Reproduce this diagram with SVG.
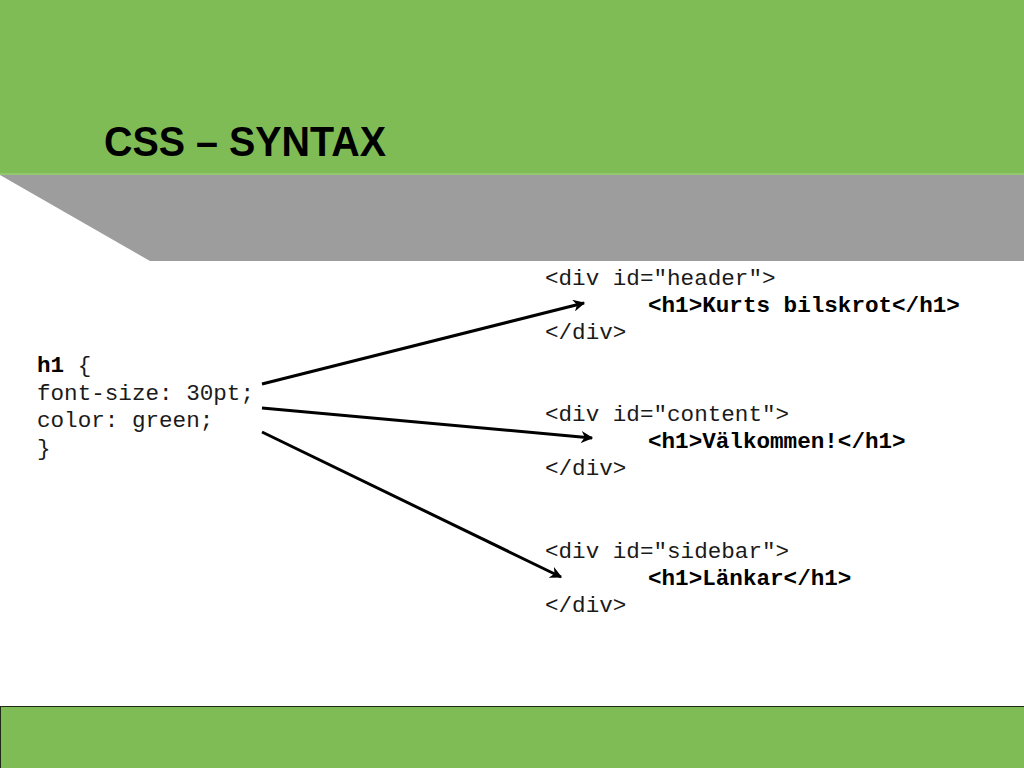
<svg xmlns="http://www.w3.org/2000/svg" width="1024" height="768" viewBox="0 0 1024 768">
<style>
.code{font-family:"Liberation Mono","Courier New",monospace;font-size:22.6px;fill:#1a1a1a}
.b{font-weight:bold;fill:#000}
.title{font-family:"Liberation Sans",Arial,sans-serif;font-weight:bold;font-size:43px;fill:#000}
.conn{stroke:#000;stroke-width:3;fill:none}
</style>
<defs>
<marker id="arr" viewBox="0 0 10 10" refX="9" refY="5" markerWidth="4" markerHeight="4" orient="auto" markerUnits="strokeWidth">
<path d="M0,0 L10,5 L0,10 L3,5 Z" fill="#000"/>
</marker>
</defs>
<g id="background">
<rect x="0" y="0" width="1024" height="173" fill="#7FBC55"/>
<rect x="0" y="173" width="1024" height="2" fill="#92C66F"/>
<polygon points="0,175 1024,175 1024,261 150,261" fill="#9D9D9D"/>
<rect x="0.5" y="706.5" width="1024" height="62" fill="#7FBC55" stroke="#1E2A16" stroke-width="1"/>
</g>
<g id="title">
<text class="title" x="104" y="156" textLength="282" lengthAdjust="spacingAndGlyphs">CSS – SYNTAX</text>
</g>
<g id="css-rule">
<text class="code" x="37" y="372"><tspan class="b">h1</tspan> {</text>
<text class="code" x="37" y="400">font-size: 30pt;</text>
<text class="code" x="37" y="427">color: green;</text>
<text class="code" x="37" y="455">}</text>
</g>
<g id="div-header">
<text class="code" x="545" y="285">&lt;div id="header"&gt;</text>
<text class="code b" x="648" y="312">&lt;h1&gt;Kurts bilskrot&lt;/h1&gt;</text>
<text class="code" x="545" y="339">&lt;/div&gt;</text>
</g>
<g id="div-content">
<text class="code" x="545" y="421">&lt;div id="content"&gt;</text>
<text class="code b" x="648" y="448">&lt;h1&gt;Välkommen!&lt;/h1&gt;</text>
<text class="code" x="545" y="475">&lt;/div&gt;</text>
</g>
<g id="div-sidebar">
<text class="code" x="545" y="558">&lt;div id="sidebar"&gt;</text>
<text class="code b" x="648" y="585">&lt;h1&gt;Länkar&lt;/h1&gt;</text>
<text class="code" x="545" y="612">&lt;/div&gt;</text>
</g>
<g id="connectors">
<line class="conn" x1="262" y1="384" x2="584" y2="303" marker-end="url(#arr)"/>
<line class="conn" x1="262" y1="408" x2="592" y2="438" marker-end="url(#arr)"/>
<line class="conn" x1="262" y1="432" x2="561" y2="577" marker-end="url(#arr)"/>
</g>
</svg>
